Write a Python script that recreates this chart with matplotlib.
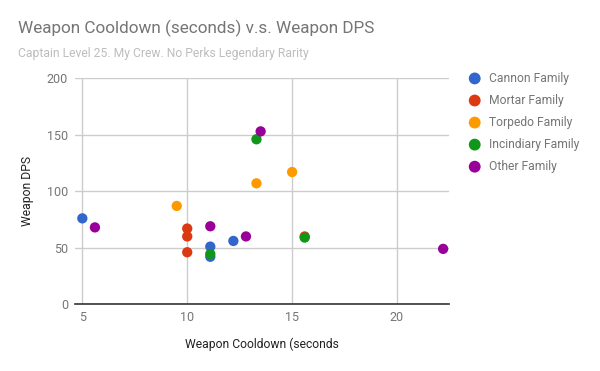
import matplotlib
matplotlib.use("Agg")
import matplotlib.pyplot as plt

plt.rcParams['font.family'] = ['Roboto', 'DejaVu Sans']

# data: (cooldown seconds, dps) per family
cannon_x = [5.0, 11.1, 11.1, 12.2]
cannon_y = [76, 51, 42, 56]
mortar_x = [10.0, 10.0, 10.0, 15.6]
mortar_y = [67, 60, 46, 60]
torpedo_x = [9.5, 13.3, 15.0]
torpedo_y = [87, 107, 117]
incind_x = [13.3, 11.1, 15.6]
incind_y = [146, 44.5, 59]
other_x = [13.5, 5.6, 11.1, 12.8, 22.2]
other_y = [153, 68, 69, 60, 49]

series = [
    ("Cannon Family", cannon_x, cannon_y, "#3366cc"),
    ("Mortar Family", mortar_x, mortar_y, "#dc3912"),
    ("Torpedo Family", torpedo_x, torpedo_y, "#ff9900"),
    ("Incindiary Family", incind_x, incind_y, "#109618"),
    ("Other Family", other_x, other_y, "#990099"),
]

fig = plt.figure(figsize=(6, 3.71), dpi=100)
ax = fig.add_axes([0.125, 0.18, 0.623, 0.609])

for label, xs, ys, col in series:
    ax.scatter(xs, ys, s=55, c=col, edgecolors='none', label=label, zorder=3)

ax.set_xlim(4.65, 22.47)
ax.set_ylim(0, 200)
ax.set_xticks([5, 10, 15, 20])
ax.set_yticks([0, 50, 100, 150, 200])
ax.grid(True, color='#cccccc', linewidth=1, zorder=0)
for s in ['top', 'right', 'left']:
    ax.spines[s].set_visible(False)
ax.spines['bottom'].set_color('#333333')
ax.spines['bottom'].set_linewidth(1.2)
ax.spines['bottom'].set_zorder(2)
ax.tick_params(length=0, labelsize=9, labelcolor='#757575', pad=5)

ax.set_xlabel('Weapon Cooldown (seconds', fontsize=8.7, color='#222222', labelpad=10)
ax.set_ylabel('Weapon DPS', fontsize=8.7, color='#222222', labelpad=9)

fig.text(0.03, 0.911, 'Weapon Cooldown (seconds) v.s. Weapon DPS',
         fontsize=12.3, color='#757575', va='baseline')
fig.text(0.03, 0.847, 'Captain Level 25. My Crew. No Perks Legendary Rarity',
         fontsize=8.7, color='#bdbdbd', va='baseline')

ax.legend(loc='upper left', bbox_to_anchor=(0.763, 0.82), bbox_transform=fig.transFigure,
          frameon=False, fontsize=8.7, labelcolor='#757575', handletextpad=0.2,
          labelspacing=0.75, markerscale=1.15, borderaxespad=0)

fig.savefig('out.png', dpi=100)
plt.close(fig)
